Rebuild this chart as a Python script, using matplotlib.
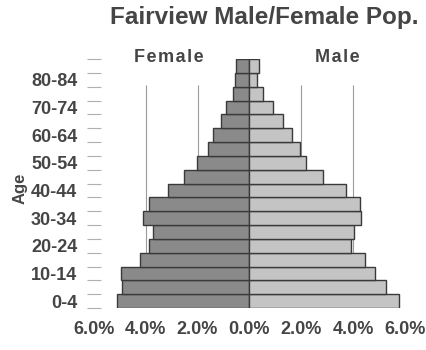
import numpy as np
import matplotlib.pyplot as plt

plt.rcParams['font.family'] = ['Liberation Sans', 'DejaVu Sans']

# age groups from youngest to oldest
ages = ["0-4", "5-9", "10-14", "15-19", "20-24", "25-29", "30-34", "35-39",
        "40-44", "45-49", "50-54", "55-59", "60-64", "65-69", "70-74",
        "75-79", "80-84", "85+"]
# percent of total population
female = [5.10, 4.91, 4.97, 4.23, 3.87, 3.72, 4.10, 3.88, 3.14, 2.54,
          2.03, 1.60, 1.41, 1.09, 0.92, 0.62, 0.54, 0.51]
male = [5.78, 5.27, 4.86, 4.47, 3.92, 4.05, 4.31, 4.27, 3.73, 2.84,
        2.20, 1.96, 1.66, 1.28, 0.92, 0.52, 0.30, 0.37]
xticks = [-6, -4, -2, 0, 2, 4, 6]
xticklabels = ["6.0%", "4.0%", "2.0%", "0.0%", "2.0%", "4.0%", "6.0%"]

txt = "#454545"
hs = "\u200a"  # hair space for spaced-out headers
fig = plt.figure(figsize=(4.27, 3.5), dpi=100)
ax = fig.add_axes([0.220, 0.12, 0.728, 0.711])

y = np.arange(len(ages))
# light gridlines behind the bars
for gx in [-4, -2, 2, 4]:
    ax.vlines(gx, -0.5, 15.6, color="#9a9a9a", lw=0.8, zorder=0)

ax.barh(y, [-v for v in female], height=1.0, color="#8a8a8a",
        edgecolor="#3a3a3a", lw=1.0, zorder=2)
ax.barh(y, male, height=1.0, color="#c4c4c4",
        edgecolor="#3a3a3a", lw=1.0, zorder=2)

ax.set_xlim(-6, 6)
ax.set_ylim(-0.5, len(ages) - 0.5)
for s in ax.spines.values():
    s.set_visible(False)

ax.set_xticks(xticks)
ax.set_xticklabels(xticklabels, fontsize=13, fontweight="bold", color=txt)
ax.tick_params(axis="x", length=0, pad=9)

ax.set_yticks(y[::2])
ax.set_yticklabels(ages[::2], fontsize=13, fontweight="bold", color=txt)
ax.set_yticks(np.arange(-0.5, len(ages)), minor=True)
ax.tick_params(axis="y", which="major", length=0, pad=12)
ax.tick_params(axis="y", which="minor", length=10, direction="inout",
               color="#b0b0b0", width=0.8)

ax.set_ylabel("Age", fontsize=12, fontweight="bold", color=txt)
ax.yaxis.set_label_coords(-0.215, 0.48)

fig.text(0.618, 0.951, "Fairview Male/Female Pop.", ha="center", va="center",
         fontsize=17.5, fontweight="bold", color=txt)
fig.text(0.396, 0.837, hs.join("Female"), ha="center", va="center",
         fontsize=13, fontweight="bold", color=txt)
fig.text(0.789, 0.837, hs.join("Male"), ha="center", va="center",
         fontsize=13, fontweight="bold", color=txt)

fig.savefig("out.png", dpi=100)
